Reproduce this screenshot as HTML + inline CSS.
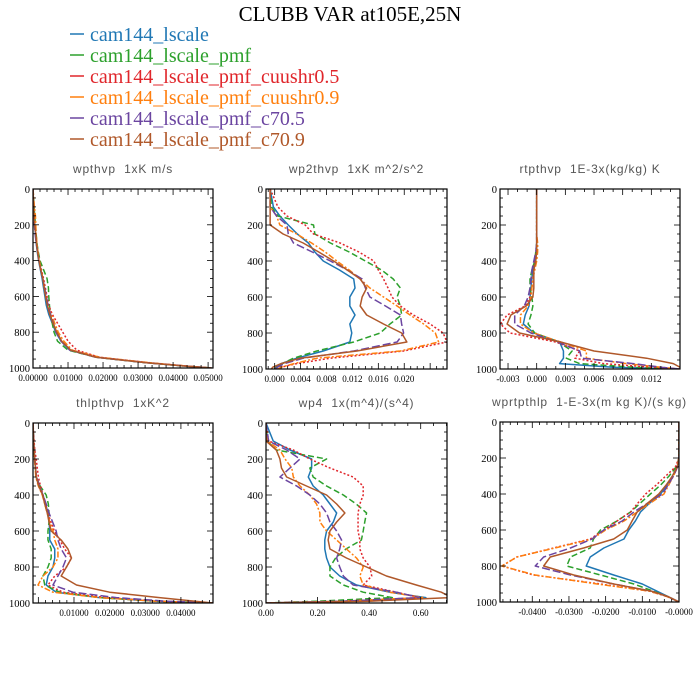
<!DOCTYPE html>
<html><head><meta charset="utf-8"><style>
html,body{margin:0;padding:0;background:#fff;}
svg{display:block;}
.t{font-family:"Liberation Serif",serif;}
.s{font-family:"Liberation Sans","DejaVu Sans",sans-serif;}
</style></head><body>
<svg id="chart" width="700" height="700" viewBox="0 0 700 700">
<rect width="700" height="700" fill="#fff"/>
<text class="t" x="350" y="21" text-anchor="middle" font-size="21" fill="#000">CLUBB VAR at105E,25N</text>
<g id="legend"></g>
<g id="panels"></g>
</svg>
<script>
const levels = [0,100,150,200,250,300,350,400,450,500,550,600,650,700,750,800,850,900,940,970,990,1000];
const seriesNames = ["cam144_lscale","cam144_lscale_pmf","cam144_lscale_pmf_cuushr0.5","cam144_lscale_pmf_cuushr0.9","cam144_lscale_pmf_c70.5","cam144_lscale_pmf_c70.9"];
const seriesColors = ["#1f77b4","#2ca02c","#e0262b","#ff7f0e","#6b45a0","#b0582a"];
const seriesDash = ["none","6,3","2,2","6,2,2,2","8,3","none"];

// wpthvp
const wpthvp_s1 = [0,.0002,.0004,.0005,.0007,.0009,.0012,.0016,.0021,.0026,.0030,.0034,.0038,.0045,.0055,.0065,.0080,.0105,.0180,.0320,.0440,.0510];
const wpthvp_s2 = [0,.0003,.0005,.0007,.0009,.0011,.0015,.0020,.0030,.0040,.0044,.0045,.0047,.0050,.0055,.0060,.0070,.0100,.0180,.0320,.0440,.0510];
const wpthvp_s3 = [0,.0002,.0004,.0005,.0007,.0010,.0014,.0018,.0024,.0030,.0035,.0040,.0045,.0055,.0070,.0085,.0100,.0125,.0190,.0330,.0445,.0510];
const wpthvp_s4 = [0,.0004,.0007,.0008,.0009,.0011,.0014,.0018,.0023,.0028,.0032,.0036,.0042,.0052,.0062,.0072,.0088,.0112,.0190,.0330,.0445,.0510];
const wpthvp_s5 = [0,.0001,.0002,.0004,.0006,.0009,.0013,.0017,.0022,.0028,.0033,.0038,.0043,.0050,.0058,.0066,.0080,.0105,.0180,.0320,.0440,.0510];
const wpthvp_s6 = [0,.0002,.0003,.0005,.0008,.0010,.0013,.0017,.0022,.0028,.0032,.0036,.0041,.0048,.0057,.0068,.0082,.0108,.0180,.0320,.0440,.0510];
// wp2thvp
const wp2thvp_s1 = [-.0007,-.0002,.0008,.0021,.0035,.0052,.0062,.0075,.0100,.0122,.0124,.0116,.0116,.0124,.0116,.0119,.0116,.0075,.0034,.0010,.0002,0];
const wp2thvp_s2 = [-.0007,-.0005,.0005,.0060,.0062,.0086,.0115,.0140,.0165,.0183,.0194,.0189,.0194,.0196,.0178,.0163,.0122,.0065,.0029,.0012,.0003,0];
const wp2thvp_s3 = [-.0007,.0005,.0019,.0047,.0060,.0101,.0130,.0153,.0160,.0168,.0175,.0181,.0194,.0214,.0240,.0260,.0266,.0199,.0086,.0034,.0010,0];
const wp2thvp_s4 = [-.0007,-.0007,.0003,.0008,.0034,.0057,.0078,.0096,.0115,.0132,.0147,.0168,.0189,.0209,.0230,.0248,.0253,.0194,.0065,.0030,.0010,.0005];
const wp2thvp_s5 = [-.0007,-.0007,.0003,.0019,.0021,.0029,.0058,.0086,.0112,.0135,.0140,.0147,.0171,.0194,.0196,.0199,.0189,.0122,.0044,.0015,.0004,0];
const wp2thvp_s6 = [-.0007,-.0007,-.0007,-.0007,.0013,.0044,.0068,.0091,.0112,.0132,.0142,.0135,.0132,.0142,.0168,.0196,.0204,.0127,.0039,.0010,-.0003,-.0005];
// rtpthvp
const rtpthvp_s1 = [0,0,0,0,0,0,0,-.0002,-.0004,-.0005,-.0006,-.0007,-.0008,-.0012,-.0014,-.0003,.0024,.0028,.0028,.0024,.0080,.0150];
const rtpthvp_s2 = [0,0,0,0,0,0,-.0001,-.0002,-.0005,-.0007,-.0007,-.0005,-.0004,-.0006,-.0009,-.0002,.0023,.0037,.0031,.0045,.0100,.0150];
const rtpthvp_s3 = [0,0,0,0,0,0,0,-.0002,-.0003,-.0004,-.0005,-.0007,-.0012,-.0031,-.0038,-.0028,.0020,.0045,.0040,.0070,.0120,.0150];
const rtpthvp_s4 = [0,0,0,0,0,.0001,.0001,0,-.0002,-.0004,-.0005,-.0006,-.0009,-.0017,-.0017,-.0003,.0025,.0052,.0052,.0094,.0130,.0150];
const rtpthvp_s5 = [0,0,0,0,0,0,-.0001,-.0003,-.0005,-.0006,-.0007,-.0009,-.0013,-.0023,-.0023,-.0006,.0022,.0045,.0047,.0101,.0130,.0150];
const rtpthvp_s6 = [0,0,0,0,0,0,0,-.0001,-.0003,-.0003,-.0003,-.0004,-.0011,-.0027,-.0031,-.0018,.0025,.0060,.0115,.0143,.0150,.0152];
// thlpthvp
const thlpthvp_s1 = [-.0015,-.0013,-.0012,-.0010,-.0008,-.0006,.0002,.0013,.0020,.0027,.0030,.0032,.0032,.0046,.0046,.0041,.0027,.0022,.0050,.0172,.0330,.0490];
const thlpthvp_s2 = [-.0015,-.0013,-.0012,-.0010,-.0008,-.0006,.0005,.0022,.0028,.0030,.0030,.0027,.0027,.0036,.0036,.0027,.0013,.0018,.0060,.0172,.0330,.0490];
const thlpthvp_s3 = [-.0015,-.0012,-.0010,-.0006,-.0003,.0000,.0006,.0013,.0020,.0027,.0035,.0045,.0060,.0074,.0093,.0079,.0046,.0027,.0069,.0190,.0340,.0490];
const thlpthvp_s4 = [-.0015,-.0014,-.0013,-.0011,-.0009,-.0007,.0000,.0011,.0018,.0025,.0032,.0041,.0046,.0055,.0055,.0041,.0013,-.0001,.0041,.0172,.0330,.0490];
const thlpthvp_s5 = [-.0015,-.0013,-.0012,-.0010,-.0008,-.0005,.0003,.0013,.0022,.0030,.0040,.0050,.0055,.0064,.0079,.0069,.0055,.0041,.0097,.0219,.0360,.0490];
const thlpthvp_s6 = [-.0015,-.0013,-.0012,-.0010,-.0008,-.0006,.0001,.0012,.0018,.0025,.0030,.0036,.0064,.0083,.0093,.0079,.0064,.0107,.0200,.0340,.0440,.0490];
// wp4
const wp4_s1 = [0,.028,.093,.177,.177,.164,.183,.222,.248,.274,.261,.235,.228,.228,.235,.248,.286,.351,.480,.620,.300,0];
const wp4_s2 = [0,.005,.040,.235,.170,.183,.235,.300,.350,.390,.383,.377,.370,.310,.270,.248,.248,.300,.377,.490,.200,0];
const wp4_s3 = [0,.010,.106,.170,.248,.338,.377,.377,.364,.357,.357,.357,.364,.364,.377,.403,.410,.377,.506,.596,.300,0];
const wp4_s4 = [0,.005,.054,.074,.100,.106,.132,.170,.196,.209,.209,.235,.274,.312,.351,.377,.364,.377,.480,.610,.300,0];
const wp4_s5 = [0,.010,.080,.132,.093,.054,.119,.170,.209,.235,.248,.274,.293,.286,.274,.286,.300,.338,.506,.596,.300,0];
const wp4_s6 = [0,0,.040,.054,.060,.080,.157,.235,.274,.306,.274,.248,.241,.248,.312,.390,.467,.583,.680,.720,.400,0];
// wprtpthlp
const wprtpthlp_s1 = [0,0,0,0,-.0005,-.0018,-.0033,-.0050,-.0080,-.0105,-.0119,-.0137,-.0150,-.0205,-.0242,-.0253,-.0178,-.0100,-.0060,-.0030,-.0010,0];
const wprtpthlp_s2 = [0,0,0,0,-.0008,-.0027,-.0050,-.0078,-.0105,-.0132,-.0169,-.0214,-.0233,-.0242,-.0296,-.0306,-.0214,-.0123,-.0070,-.0030,-.0010,0];
const wprtpthlp_s3 = [0,0,0,0,-.0010,-.0036,-.0062,-.0091,-.0112,-.0132,-.0169,-.0205,-.0242,-.0342,-.0442,-.0483,-.0397,-.0214,-.0080,-.0032,-.0010,0];
const wprtpthlp_s4 = [0,0,0,0,-.0004,-.0015,-.0028,-.0041,-.0078,-.0114,-.0150,-.0200,-.0237,-.0338,-.0442,-.0483,-.0392,-.0223,-.0080,-.0032,-.0010,0];
const wprtpthlp_s5 = [0,0,0,0,-.0004,-.0015,-.0030,-.0045,-.0085,-.0123,-.0155,-.0205,-.0237,-.0296,-.0369,-.0392,-.0296,-.0178,-.0075,-.0030,-.0010,0];
const wprtpthlp_s6 = [0,0,0,0,-.0005,-.0018,-.0035,-.0055,-.0085,-.0114,-.0128,-.0141,-.0178,-.0260,-.0351,-.0369,-.0287,-.0178,-.0075,-.0030,-.0010,0];

const yTickLabels = ["0","200","400","600","800","1000"];
const p1Ticks = ["0.00000","0.01000","0.02000","0.03000","0.04000","0.05000"];
const p2Ticks = ["0.000","0.004","0.008","0.012","0.016","0.020"];
const p3Ticks = ["-0.003","0.000","0.003","0.006","0.009","0.012"];
const p4Ticks = ["0.01000","0.02000","0.03000","0.04000"];
const p5Ticks = ["0.00","0.20","0.40","0.60"];
const p6Ticks = ["-0.0400","-0.0300","-0.0200","-0.0100","-0.0000"];

const NS = "http://www.w3.org/2000/svg";
function mk(tag, attrs, parent){const e=document.createElementNS(NS,tag);for(const k in attrs)e.setAttribute(k,attrs[k]);if(parent)parent.appendChild(e);return e;}

// legend
const leg = document.getElementById('legend');
seriesNames.forEach((n,i)=>{
  const y = 34 + i*21;
  const g = mk('g',{},leg);
  
  
  const l = mk('line',{x1:70,x2:84,y1:y,y2:y,stroke:seriesColors[i],'stroke-width':1.5},g);
  
  
  const t = mk('text',{x:90,y:y+7,'font-size':20,fill:seriesColors[i],class:'t'},g);
  
  
  t.textContent = n;
});

const panels = [
 {name:'wpthvp',title:'wpthvp  1xK m/s',x0:33,x1:213,y0:189,y1:368,xmin:0,xmax:0.0514,major:0.01,minor:0.002,tickVals:[0,0.01,0.02,0.03,0.04,0.05],ticks:p1Ticks,data:[wpthvp_s1,wpthvp_s2,wpthvp_s3,wpthvp_s4,wpthvp_s5,wpthvp_s6]},
 {name:'wp2thvp',title:'wp2thvp  1xK m^2/s^2',x0:266,x1:447,y0:189,y1:369,xmin:-0.00134,xmax:0.0266,major:0.004,minor:0.001,tickVals:[0,0.004,0.008,0.012,0.016,0.020],ticks:p2Ticks,data:[wp2thvp_s1,wp2thvp_s2,wp2thvp_s3,wp2thvp_s4,wp2thvp_s5,wp2thvp_s6]},
 {name:'rtpthvp',title:'rtpthvp  1E-3x(kg/kg) K',x0:500,x1:680,y0:189,y1:369,xmin:-0.00384,xmax:0.0150,major:0.003,minor:0.001,tickVals:[-0.003,0,0.003,0.006,0.009,0.012],ticks:p3Ticks,data:[rtpthvp_s1,rtpthvp_s2,rtpthvp_s3,rtpthvp_s4,rtpthvp_s5,rtpthvp_s6]},
 {name:'thlpthvp',title:'thlpthvp  1xK^2',x0:33,x1:213,y0:423,y1:603,xmin:-0.0015,xmax:0.049,major:0.01,minor:0.002,tickVals:[0.01,0.02,0.03,0.04],ticks:p4Ticks,data:[thlpthvp_s1,thlpthvp_s2,thlpthvp_s3,thlpthvp_s4,thlpthvp_s5,thlpthvp_s6]},
 {name:'wp4',title:'wp4  1x(m^4)/(s^4)',x0:266,x1:447,y0:423,y1:603,xmin:0,xmax:0.702,major:0.2,minor:0.05,tickVals:[0,0.2,0.4,0.6],ticks:p5Ticks,data:[wp4_s1,wp4_s2,wp4_s3,wp4_s4,wp4_s5,wp4_s6]},
 {name:'wprtpthlp',title:'wprtpthlp  1-E-3x(m kg K)/(s kg)',x0:500,x1:679,y0:422,y1:602,xmin:-0.0488,xmax:0,major:0.01,minor:0.002,tickVals:[-0.04,-0.03,-0.02,-0.01,0],ticks:p6Ticks,data:[wprtpthlp_s1,wprtpthlp_s2,wprtpthlp_s3,wprtpthlp_s4,wprtpthlp_s5,wprtpthlp_s6]}
];

const root = document.getElementById('panels');
panels.forEach((p,pi)=>{
  const g = mk('g',{},root);
  
  
  const xs = v => p.x0 + (v-p.xmin)/(p.xmax-p.xmin)*(p.x1-p.x0);
  const ys = v => p.y0 + v/1000*(p.y1-p.y0);
  const cx = (p.x0+p.x1)/2;
  const tt = mk('text',{x:cx,y:p.y0-16,'text-anchor':'middle','font-size':12,'letter-spacing':0.8,fill:'#555',class:'s'},g);
  
  
  tt.textContent = p.title.replace(/  /g,'\u00a0\u00a0');
  const cp = mk('clipPath',{id:'clip'+pi},g);
  mk('rect',{x:p.x0,y:p.y0,width:p.x1-p.x0,height:p.y1-p.y0},cp);
  const lines = mk('g',{'clip-path':'url(#clip'+pi+')'},g);
  
  
  p.data.forEach((arr,si)=>{
    const d = arr.map((v,i)=>(i?'L':'M')+xs(v).toFixed(2)+','+ys(levels[i]).toFixed(2)).join(' ');
    const path = mk('path',{d:d,fill:'none',stroke:seriesColors[si],'stroke-width':1.5,'stroke-linejoin':'round'},lines);
    if(seriesDash[si]!=='none') path.setAttribute('stroke-dasharray',seriesDash[si]);
    
    
  });
  const fr = mk('rect',{x:p.x0,y:p.y0,width:p.x1-p.x0,height:p.y1-p.y0,fill:'none',stroke:'#000','stroke-width':1.2},g);
  
  
  const ax = mk('g',{stroke:'#000','stroke-width':0.8},g);
  
  
  for(let v=0; v<=1000; v+=50){
    const y=ys(v), L=(v%200===0)?6:3;
    mk('line',{x1:p.x0,x2:p.x0+L,y1:y,y2:y},ax);
    mk('line',{x1:p.x1,x2:p.x1-L,y1:y,y2:y},ax);
  }
  yTickLabels.forEach(s=>{
    const t = mk('text',{x:p.x0-3,y:ys(+s)+4,'text-anchor':'end','font-size':10.5,fill:'#000',class:'t'},g);
    
    
    t.textContent=s;
  });
  const start = Math.ceil(p.xmin/p.minor-1e-6);
  const end = Math.floor(p.xmax/p.minor+1e-6);
  for(let k=start;k<=end;k++){
    const v=k*p.minor, x=xs(v);
    const isMaj = Math.abs(v/p.major-Math.round(v/p.major))<1e-6;
    const L=isMaj?6:3;
    mk('line',{x1:x,x2:x,y1:p.y1,y2:p.y1-L},ax);
    mk('line',{x1:x,x2:x,y1:p.y0,y2:p.y0+L},ax);
  }
  p.ticks.forEach((s,i)=>{
    const t = mk('text',{x:xs(p.tickVals[i]),y:p.y1+13,'text-anchor':'middle','font-size':9,fill:'#000',class:'t'},g);
    
    
    t.textContent=s;
  });
});
</script>
</body></html>
